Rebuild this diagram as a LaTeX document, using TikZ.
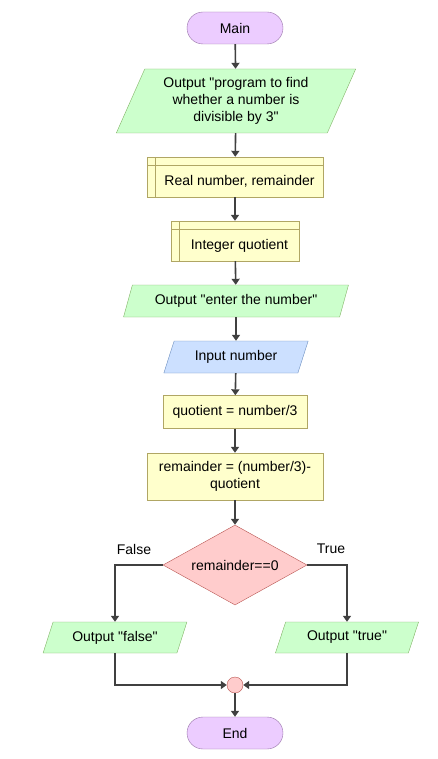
\documentclass[tikz,border=0pt]{standalone}
\usepackage{fontspec}
\setmainfont{Liberation Sans}[Ligatures=TeXOff]
\usetikzlibrary{arrows.meta,shapes.geometric,positioning}

\definecolor{termfill}{RGB}{236,204,255}
\definecolor{termdraw}{RGB}{150,115,166}
\definecolor{iofill}{RGB}{204,255,204}
\definecolor{iodraw}{RGB}{130,179,102}
\definecolor{infill}{RGB}{204,224,255}
\definecolor{indraw}{RGB}{108,142,191}
\definecolor{procfill}{RGB}{255,255,204}
\definecolor{procdraw}{RGB}{176,166,100}
\definecolor{decfill}{RGB}{255,204,204}
\definecolor{decdraw}{RGB}{184,84,80}
\definecolor{flowline}{RGB}{64,64,64}

\begin{document}
\begin{tikzpicture}[x=1pt,y=-1pt,
    every node/.style={font=\fontsize{14}{17}\selectfont},
    term/.style={rectangle,rounded corners=16pt,draw=termdraw,fill=termfill,minimum width=96,minimum height=32},
    io/.style={trapezium,trapezium left angle=65,trapezium right angle=115,trapezium stretches=true,
        draw=iodraw,fill=iofill,align=center,inner sep=1pt},
    inp/.style={draw=indraw,fill=infill},
    proc/.style={rectangle,draw=procdraw,fill=procfill,align=center},
    store/.style={rectangle,draw=procdraw,fill=procfill,text height=20pt,text depth=3pt,
        execute at begin node=\hspace*{9pt},path picture={
        \draw[procdraw] ([xshift=8pt]path picture bounding box.north west) -- ([xshift=8pt]path picture bounding box.south west)
            ([yshift=-8pt]path picture bounding box.north west) -- ([yshift=-8pt]path picture bounding box.north east);}},
    decision/.style={diamond,aspect=1.8,inner sep=0pt,draw=decdraw,fill=decfill},
    flow/.style={draw=flowline,line width=1.6pt,-{Triangle[width=8pt,length=6pt]}}]
    \useasboundingbox (0,0) rectangle (437,759);

    \node[term] (main) at (235,28) {Main};
    \node[io,minimum width=240,minimum height=64] (outtitle) at (236,101)
        {Output "program to find\\whether a number is\\divisible by 3"};
    \node[store,minimum width=176,minimum height=40] (realvars) at (235,177) {Real number, remainder};
    \node[store,minimum width=128,minimum height=40] (intvars) at (235,241) {Integer quotient};
    \node[io,minimum width=225,minimum height=32] (outenter) at (236,301) {Output "enter the number"};
    \node[io,inp,minimum width=145,minimum height=32] (innumber) at (236,357) {Input number};
    \node[proc,minimum width=144,minimum height=33] (quot) at (235,412) {quotient = number/3};
    \node[proc,minimum width=176,minimum height=47] (rem) at (235,476.5) {remainder = (number/3)-\\quotient};
    \node[decision,minimum width=144,minimum height=80] (check) at (235,565) {remainder==0};

    \node[io,minimum width=144,minimum height=31] (outfalse) at (115,637.5) {Output "false"};
    \node[io,minimum width=144,minimum height=31] (outtrue) at (347,637.5) {Output "true"};
    \node[circle,draw=decdraw,fill=decfill,minimum size=16,inner sep=0pt] (merge) at (235,685) {};
    \node[term] (end) at (235,733) {End};

    \node (lfalse) at (134,549) {False};
    \node (ltrue) at (331,549) {True};

    \foreach \from/\to in {main/outtitle,outtitle/realvars,realvars/intvars,intvars/outenter,
        outenter/innumber,innumber/quot,quot/rem,rem/check,merge/end}
        \draw[flow] (\from) -- (\to);

    \draw[flow] (check.west) -| (outfalse.north);
    \draw[flow] (check.east) -| (outtrue.north);
    \draw[flow] (outfalse.south) |- (merge);
    \draw[flow] (outtrue.south) |- (merge);
\end{tikzpicture}
\end{document}
